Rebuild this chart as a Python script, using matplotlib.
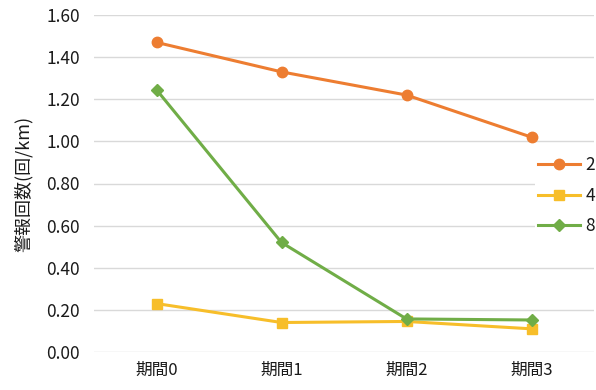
import matplotlib
matplotlib.use("Agg")
import matplotlib.pyplot as plt
from matplotlib.ticker import FuncFormatter

plt.rcParams['font.family'] = ['Noto Sans CJK JP', 'DejaVu Sans']

categories = ["期間0", "期間1", "期間2", "期間3"]
series_names = ["2", "4", "8"]
values_2 = [1.47, 1.33, 1.22, 1.02]
values_4 = [0.23, 0.14, 0.145, 0.11]
values_8 = [1.245, 0.52, 0.157, 0.152]
y_ticks = [0.0, 0.2, 0.4, 0.6, 0.8, 1.0, 1.2, 1.4, 1.6]
y_label = "警報回数(回/km)"

colors = ["#ED7D31", "#F7BE2A", "#70AD47"]
markers = ["o", "s", "D"]
msizes = [7.5, 7.5, 6]
text_color = "#1a1a1a"

fig = plt.figure(figsize=(5.96, 3.90), dpi=100)
ax = fig.add_axes([94 / 596, 1 - 352 / 390, 500 / 596, 337 / 390])

x = list(range(len(categories)))
for name, vals, c, m, ms in zip(series_names, [values_2, values_4, values_8], colors, markers, msizes):
    ax.plot(x, vals, color=c, lw=2.2, marker=m, markersize=ms, label=name, zorder=3)

ax.set_xlim(-0.5, len(categories) - 0.5)
ax.set_ylim(0, 1.6)
ax.set_yticks(y_ticks)
ax.yaxis.set_major_formatter(FuncFormatter(lambda v, p: f"{v:.2f}"))
ax.set_xticks(x)
ax.set_xticklabels(categories, fontsize=12)
ax.tick_params(axis='y', labelsize=12.5, length=0, pad=10, colors=text_color)
ax.tick_params(axis='x', length=0, pad=7, colors=text_color)
ax.grid(axis='y', color="#D9D9D9", lw=1.0)
ax.set_axisbelow(True)
for s in ax.spines.values():
    s.set_visible(False)

ax.set_ylabel(y_label, fontsize=13, color=text_color, labelpad=10)

leg = ax.legend(loc="center left", bbox_to_anchor=(0.882, 0.463),
                frameon=True, fontsize=12.5, handlelength=2.4, labelspacing=0.72,
                borderpad=0.2, handletextpad=0.3, borderaxespad=0)
leg.get_frame().set_facecolor("white")
leg.get_frame().set_edgecolor("none")
leg.get_frame().set_alpha(1)
for t in leg.get_texts():
    t.set_color(text_color)

fig.savefig("out.png", dpi=100)
